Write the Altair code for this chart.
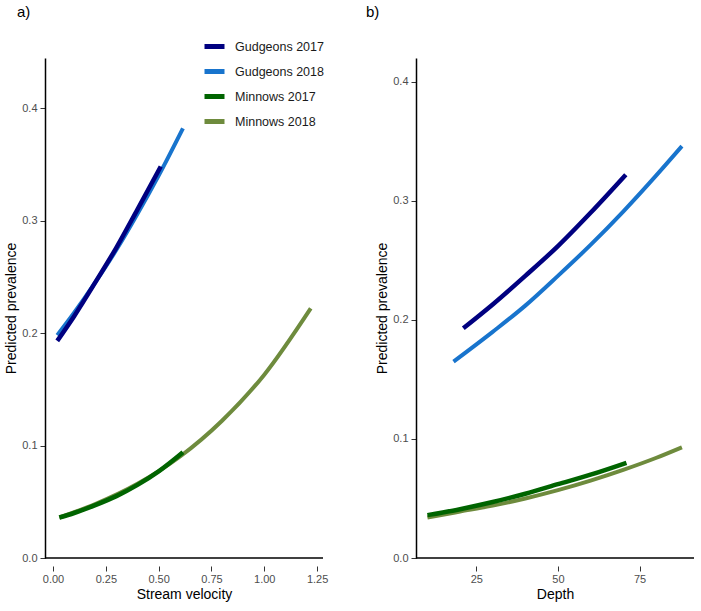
import altair as alt
import pandas as pd

# ---- data ----
series_names = ["Gudgeons 2017", "Gudgeons 2018", "Minnows 2017", "Minnows 2018"]
series_colors = ["#000080", "#1874CD", "#006400", "#6E8B3D"]

# panel a: stream velocity
vel_g17_x = [0.02, 0.10, 0.20, 0.30, 0.40, 0.51]
vel_g17_y = [0.193, 0.215, 0.245, 0.276, 0.310, 0.348]
vel_g18_x = [0.02, 0.10, 0.20, 0.30, 0.40, 0.50, 0.615]
vel_g18_y = [0.198, 0.218, 0.245, 0.274, 0.306, 0.340, 0.382]
vel_m17_x = [0.03, 0.10, 0.20, 0.30, 0.40, 0.50, 0.615]
vel_m17_y = [0.036, 0.040, 0.047, 0.055, 0.065, 0.077, 0.094]
vel_m18_x = [0.03, 0.20, 0.40, 0.60, 0.80, 1.00, 1.22]
vel_m18_y = [0.036, 0.048, 0.066, 0.090, 0.122, 0.163, 0.222]

# panel b: depth
dep_g17_x = [21, 30, 40, 50, 60, 70.8]
dep_g17_y = [0.193, 0.213, 0.237, 0.262, 0.290, 0.322]
dep_g18_x = [18, 30, 40, 50, 60, 70, 80, 88]
dep_g18_y = [0.165, 0.190, 0.212, 0.237, 0.263, 0.291, 0.321, 0.346]
dep_m17_x = [10, 20, 30, 40, 50, 60, 71]
dep_m17_y = [0.036, 0.041, 0.047, 0.054, 0.062, 0.070, 0.080]
dep_m18_x = [10, 20, 30, 40, 50, 60, 70, 80, 88]
dep_m18_y = [0.034, 0.039, 0.044, 0.050, 0.057, 0.065, 0.074, 0.084, 0.093]

vel_ticks = [0, 0.25, 0.5, 0.75, 1.0, 1.25]
dep_ticks = [25, 50, 75]
y_ticks = [0, 0.1, 0.2, 0.3, 0.4]

FONT = "Liberation Sans"
W = 278
H = 500


def make_df(xs_list, ys_list):
    rows = []
    for name, xs, ys in zip(series_names, xs_list, ys_list):
        for x, y in zip(xs, ys):
            rows.append({"x": x, "y": y, "series": name})
    return pd.DataFrame(rows)


def panel(df, xdom, xticks, xfmt, ymax, xtitle, title_text, title_dx, title_offset,
          show_legend):
    xenc = alt.X(
        "x:Q",
        scale=alt.Scale(domain=xdom, nice=False, zero=False),
        axis=alt.Axis(values=xticks, format=xfmt, title=xtitle, offset=8,
                      domain=False, grid=False, tickSize=5, labelPadding=2,
                      titlePadding=3),
    )
    yenc = alt.Y(
        "y:Q",
        scale=alt.Scale(domain=[0, ymax], nice=False, zero=True),
        axis=alt.Axis(values=y_ticks, format=".1f", title="Predicted prevalence",
                      grid=False, tickSize=5, labelPadding=3, titlePadding=3),
    )
    if show_legend:
        leg = alt.Legend(orient="none", legendX=157, legendY=-24, title=None,
                         symbolType="stroke", symbolStrokeWidth=5, symbolSize=400,
                         labelFontSize=12.5, labelFont=FONT, labelColor="#1a1a1a",
                         rowPadding=2, labelOffset=8, padding=0)
    else:
        leg = None
    cenc = alt.Color("series:N", scale=alt.Scale(domain=series_names, range=series_colors),
                     legend=leg)
    layers = []
    draw_order = [("Gudgeons 2018", 4), ("Gudgeons 2017", 4.5),
                  ("Minnows 2018", 4), ("Minnows 2017", 4.5)]
    for name, sw in draw_order:
        layers.append(
            alt.Chart(df).transform_filter(alt.datum.series == name)
            .mark_line(strokeWidth=sw, interpolate="monotone", strokeCap="butt")
            .encode(x=xenc, y=yenc, color=cenc)
        )
    base_line = alt.Chart(pd.DataFrame({"z": [0]})).mark_rule(
        color="black", strokeWidth=1.5).encode(
        y=alt.datum(0), x=alt.value(0), x2=alt.value(W))
    return alt.layer(base_line, *layers).properties(
        width=W, height=H,
        title=alt.TitleParams(title_text, anchor="start", frame="group", dx=title_dx,
                              offset=title_offset, fontSize=15, fontWeight="normal",
                              font=FONT, color="black"),
    )


df_a = make_df([vel_g17_x, vel_g18_x, vel_m17_x, vel_m18_x],
               [vel_g17_y, vel_g18_y, vel_m17_y, vel_m18_y])
df_b = make_df([dep_g17_x, dep_g18_x, dep_m17_x, dep_m18_x],
               [dep_g17_y, dep_g18_y, dep_m17_y, dep_m18_y])

chart_a = panel(df_a, [-0.038, 1.278], vel_ticks, ".2f", 0.4445, "Stream velocity",
                "a)", -28, 14, True)
chart_b = panel(df_b, [6.5, 91.7], dep_ticks, "d", 0.42, "Depth", "b)", -50, 38, False)

chart = alt.hconcat(chart_a, chart_b, spacing=38).resolve_scale(
    color="independent", x="independent", y="independent"
).properties(
    padding={"left": 4, "top": 5, "right": 2, "bottom": 2},
    background="white",
).configure_view(stroke=None).configure_axis(
    labelFont=FONT, labelFontSize=11, labelColor="#4d4d4d",
    titleFont=FONT, titleFontSize=14, titleColor="black", titleFontWeight="normal",
    domainColor="black", domainWidth=1.5, tickColor="#333333", tickWidth=1,
)

chart.save("out.html", embed_options={"renderer": "svg", "actions": False})
